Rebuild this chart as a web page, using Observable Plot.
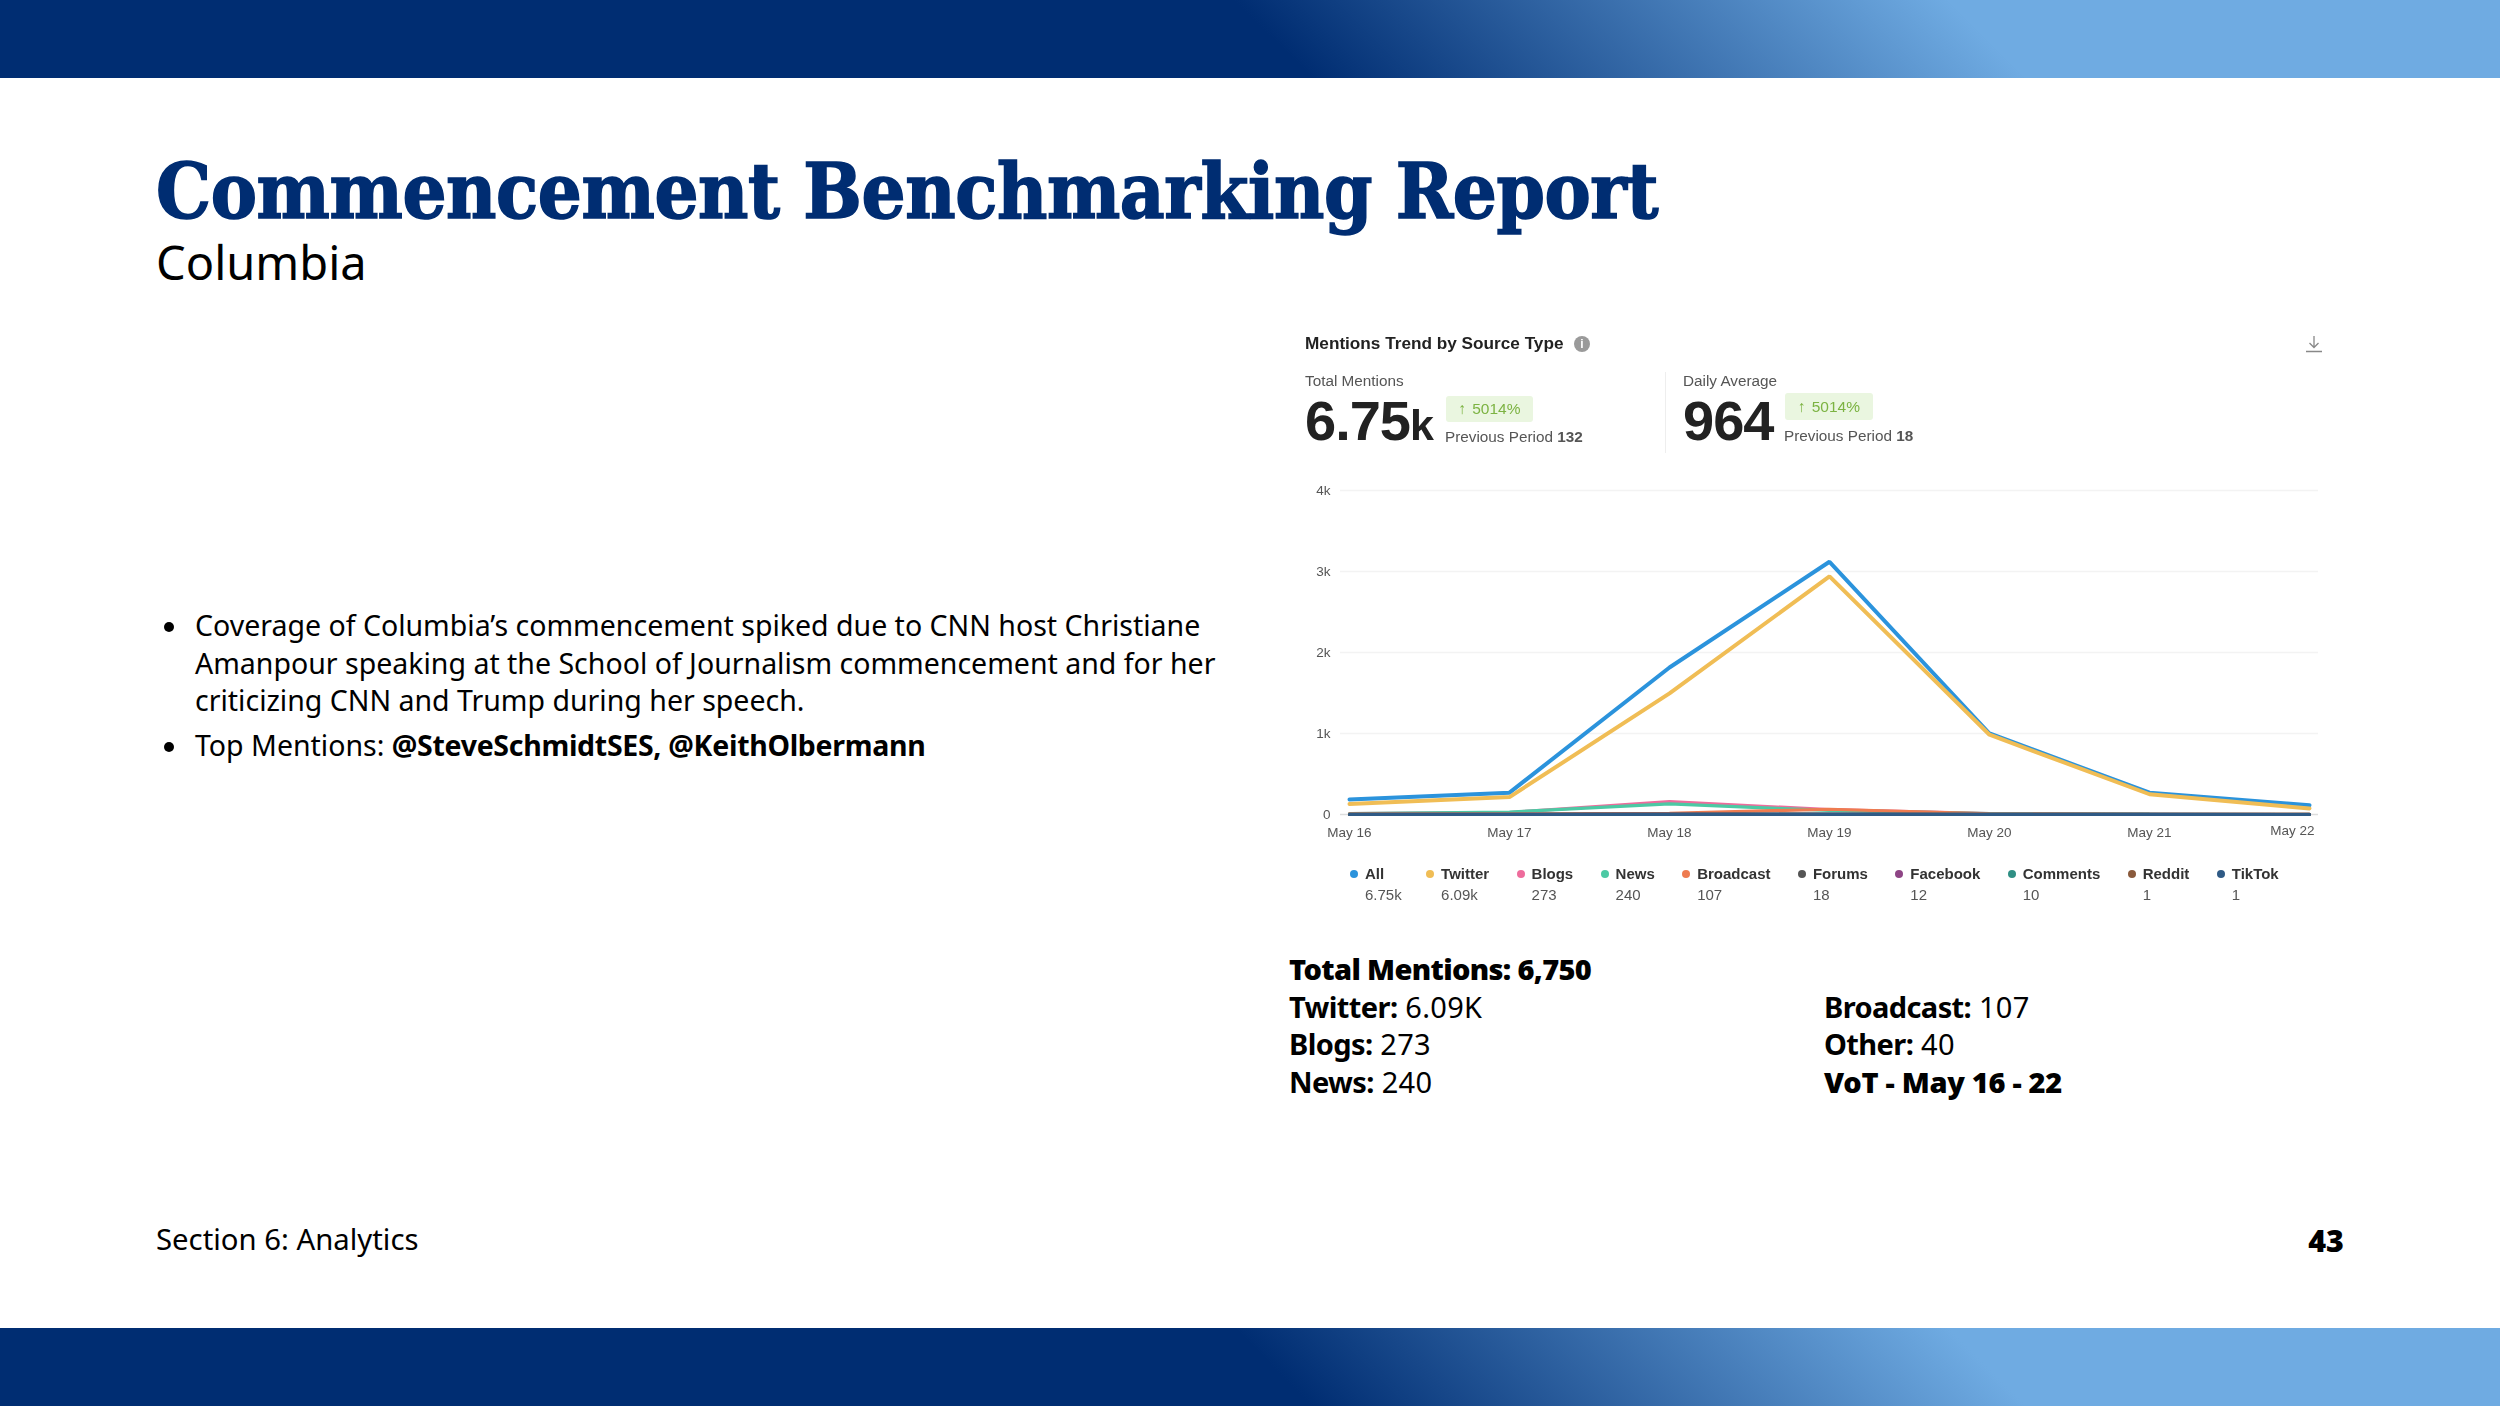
<!DOCTYPE html>
<html><head><meta charset="utf-8">
<script src="https://cdn.jsdelivr.net/npm/d3@7"></script>
<script src="https://cdn.jsdelivr.net/npm/@observablehq/plot@0.6"></script>
<style>
html,body{margin:0;padding:0;background:#fff}
#page{position:relative;width:2500px;height:1406px;overflow:hidden;font-family:"Noto Sans",sans-serif;color:#000}
.abs{position:absolute;white-space:nowrap;line-height:1}
.band{position:absolute;left:0;width:2500px;height:78px;background:linear-gradient(45deg,#002d72 0%,#002d72 50.9%,#6fabe2 78.6%,#6fabe2 100%)}
#title{left:156px;top:153px;font-family:"DejaVu Serif Condensed","DejaVu Serif",serif;font-stretch:condensed;font-weight:700;font-size:77px;color:#002d72;letter-spacing:-.4px;-webkit-text-stroke:1.5px #002d72}
#sub{left:156px;top:239px;font-size:47px}
.body{font-size:28.5px;left:195px}
.body b{letter-spacing:-.3px}
.bul{left:164px;width:10px;height:10px;border-radius:50%;background:#000}
.sum{font-size:29px;letter-spacing:.3px}
.sum b{font-weight:700;letter-spacing:-.6px}
.sum b.k{font-weight:900;letter-spacing:-.65px}
#shot{position:absolute;left:0;top:0;width:2500px;height:1406px;font-family:"Liberation Sans",Arial,sans-serif;color:#222;filter:blur(.35px)}
.g{color:#555;font-size:15.3px}
.badge{position:absolute;background:#eaf6e0;border-radius:3px;color:#7cb342;font-size:15.5px;display:flex;align-items:center;justify-content:center;gap:6px}
#chart{position:absolute;left:1290px;top:470px}
#legend{position:absolute;left:1350px;top:866px;display:flex;gap:27.4px;font-size:15px}
.li{display:grid;grid-template-columns:15px auto;row-gap:6px}
.li:first-child{margin-right:-3px}
.li i{width:8px;height:8px;border-radius:50%;align-self:center}
.li b{font-weight:700;color:#333;line-height:16px}
.li span{grid-column:2;color:#555;line-height:14px}
</style></head><body>
<div id="page">
<div class="band" style="top:0"></div>
<div class="band" style="top:1328px"></div>
<div class="abs" id="title">Commencement Benchmarking Report</div>
<div class="abs" id="sub">Columbia</div>
<div class="abs bul" style="top:622px"></div>
<div class="abs body" style="top:611px">Coverage of Columbia’s commencement spiked due to CNN host Christiane</div>
<div class="abs body" style="top:649px">Amanpour speaking at the School of Journalism commencement and for her</div>
<div class="abs body" style="top:686px">criticizing CNN and Trump during her speech.</div>
<div class="abs bul" style="top:742px"></div>
<div class="abs body" style="top:731px">Top Mentions: <b>@SteveSchmidtSES, @KeithOlbermann</b></div>
<div id="shot">
 <div class="abs" style="left:1305px;top:335px;font-size:17.2px;font-weight:700">Mentions Trend by Source Type</div>
 <div class="abs" style="left:1574px;top:336px;width:16px;height:16px;border-radius:50%;background:#9a9a9a;color:#fff;font-size:12px;text-align:center;line-height:16px;font-weight:700">i</div>
 <svg class="abs" style="left:2304px;top:334px" width="20" height="20" viewBox="0 0 20 20" fill="none" stroke="#888" stroke-width="1.3"><path d="M10 2V13M5.5 9 10 13.5 14.500 9M2 17.500H18"/></svg>
 <div class="abs g" style="left:1305px;top:373px">Total Mentions</div>
 <div class="abs" style="left:1305px;top:393px;font-size:56px;font-weight:700;letter-spacing:-1px">6.75<span style="font-size:43px">k</span></div>
 <div class="badge" style="left:1446px;top:396px;width:87px;height:26px"><span>↑</span><span>5014%</span></div>
 <div class="abs g" style="left:1445px;top:429px">Previous Period <b>132</b></div>
 <div class="abs" style="left:1665px;top:372px;width:1px;height:81px;background:#eee"></div>
 <div class="abs g" style="left:1683px;top:373px">Daily Average</div>
 <div class="abs" style="left:1683px;top:393px;font-size:56px;font-weight:700;letter-spacing:-1px">964</div>
 <div class="badge" style="left:1785px;top:393px;width:88px;height:27px"><span>↑</span><span>5014%</span></div>
 <div class="abs g" style="left:1784px;top:428px">Previous Period <b>18</b></div>
 <div id="chart"></div>
 <div id="legend"></div>
</div>
<div class="abs sum" style="left:1289px;top:954px"><b class="k">Total Mentions: 6,750</b></div>
<div class="abs sum" style="left:1289px;top:992px"><b>Twitter:</b> 6.09K</div>
<div class="abs sum" style="left:1289px;top:1029px"><b>Blogs:</b> 273</div>
<div class="abs sum" style="left:1289px;top:1067px"><b>News:</b> 240</div>
<div class="abs sum" style="left:1824px;top:992px"><b>Broadcast:</b> 107</div>
<div class="abs sum" style="left:1824px;top:1029px"><b>Other:</b> 40</div>
<div class="abs sum" style="left:1824px;top:1067px"><b class="k" style="letter-spacing:-.3px">VoT - May 16 - 22</b></div>
<div class="abs" style="left:156px;top:1225px;font-size:29.3px">Section 6: Analytics</div>
<div class="abs" style="right:156px;top:1225px;font-size:30.5px;font-weight:900">43</div>
</div>
<script>
const days = ["May 16","May 17","May 18","May 19","May 20","May 21","May 22"];
const dates = ["2024-05-16","2024-05-17","2024-05-18","2024-05-19","2024-05-20","2024-05-21","2024-05-22"].map(d=>new Date(d+"T00:00:00Z"));
const names = ["All","Twitter","Blogs","News","Broadcast","Forums","Facebook","Comments","Reddit","TikTok"];
const totals = ["6.75k","6.09k","273","240","107","18","12","10","1","1"];
const colors = ["#2b93dc","#f0bd55","#ee6c9c","#4cc9a4","#ee7b50","#555555","#8e4585","#2f8f84","#8a5a3c","#2f5a85"];
const all = [185,270,1815,3120,1000,270,115];
const twitter = [130,215,1495,2940,985,250,75];
const blogs = [10,25,160,60,10,5,3];
const news = [12,30,130,50,10,5,3];
const broadcast = [8,8,15,65,8,2,1];
const forums = [2,3,4,5,2,1,1];
const facebook = [1,2,4,3,1,1,0];
const comments = [1,1,3,3,1,1,0];
const reddit = [0,0,1,0,0,0,0];
const tiktok = [0,0,0,1,0,0,0];
const series = [all,twitter,blogs,news,broadcast,forums,facebook,comments,reddit,tiktok];
const rows = names.flatMap((n,i)=>series[i].map((v,j)=>({name:n,date:dates[j],value:v})));
const yTicks = [0,1000,2000,3000,4000];
const fmtY = v => v===0 ? "0" : (v/1000)+"k";
const lastTick = [{date:dates[6],label:days[6]}];
const plot = Plot.plot({
  width:1028,height:380,marginLeft:50,marginRight:0,marginTop:20,marginBottom:36,
  style:{fontFamily:"Liberation Sans, Arial, sans-serif",fontSize:"13.5px",color:"#555",background:"transparent"},
  x:{type:"utc",domain:[dates[0],dates[6]],insetLeft:9,insetRight:9},
  y:{domain:[0,4000]},
  color:{domain:names,range:colors},
  marks:[
    Plot.ruleY(yTicks.slice(1),{stroke:"#f3f3f3",strokeWidth:1.5}),
    Plot.ruleY([0],{stroke:"#dddddd",strokeWidth:1.5}),
    Plot.axisY({ticks:yTicks,tickFormat:fmtY,tickSize:0,tickPadding:10,label:null,fontSize:13.5,fill:"#555"}),
    Plot.axisX({ticks:dates.slice(0,6),tickFormat:(d,i)=>days[i],tickSize:0,tickPadding:13,label:null,fontSize:13.5,fill:"#555"}),
    Plot.text(lastTick,{x:"date",frameAnchor:"bottom",text:"label",textAnchor:"end",dx:5,dy:20.5,fontSize:13.5,fill:"#555"}),
    ...names.map((n,i)=>Plot.line(rows.filter(r=>r.name===n),{x:"date",y:"value",stroke:"name",strokeWidth:i<2?4:3.2,strokeLinejoin:"miter"}))
  ]
});
document.getElementById("chart").appendChild(plot);
const legend = document.getElementById("legend");
names.forEach((n,i)=>{
  const d=document.createElement("div");d.className="li";
  d.innerHTML=`<i style="background:${colors[i]}"></i><b>${n}</b><span>${totals[i]}</span>`;
  legend.appendChild(d);
});
</script>
</body></html>
